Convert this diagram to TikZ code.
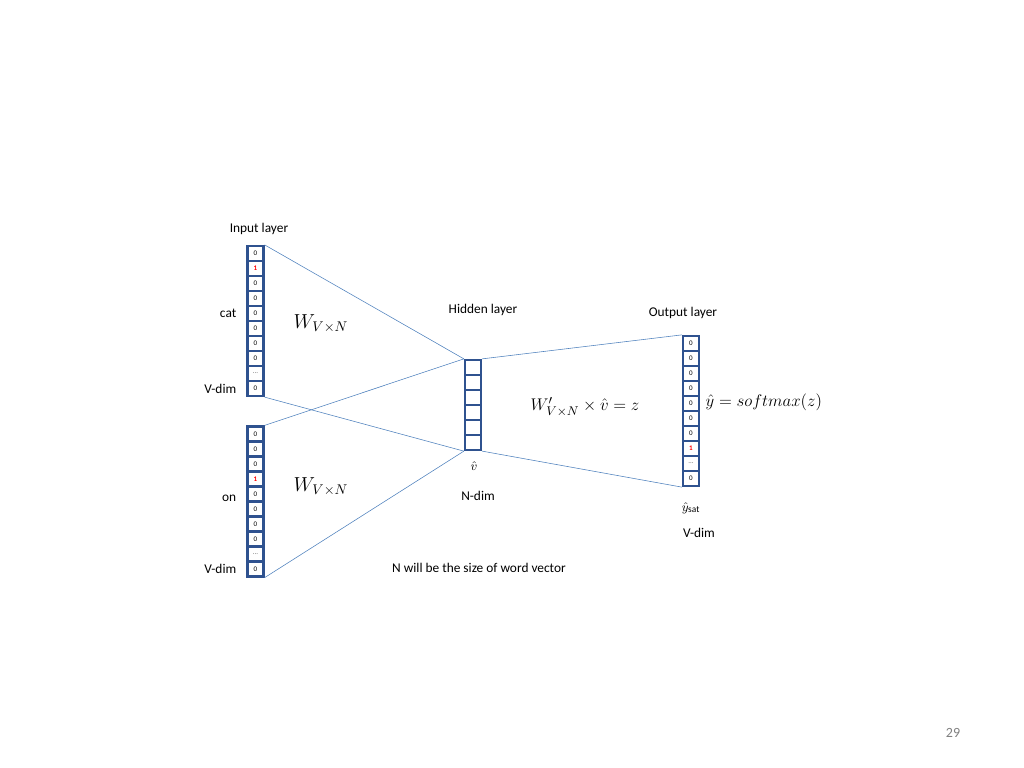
\documentclass[tikz,border=0pt]{standalone}
\usepackage{fontspec}
\setmainfont{Carlito}
\usetikzlibrary{positioning}
\definecolor{cellblue}{RGB}{47,82,143}
\definecolor{linkblue}{RGB}{79,129,189}
\newcommand{\celldots}{\textcolor{black!60}{\raisebox{0.5pt}{...}}}
\newcommand{\hotone}{\textcolor{red}{\textbf{1}}}
\begin{document}
\begin{tikzpicture}[x=0.025cm, y=-0.025cm, font=\fontsize{9.5}{11}\selectfont]
    \tikzstyle{cell} = [ rectangle, draw = cellblue, line width = 1.6pt, fill = white, minimum width = 0.4cm, minimum height = 0.375cm, inner sep = 0pt, font = \fontsize{5}{6}\selectfont]
    \tikzstyle{link} = [ draw = linkblue, thin]
    \tikzstyle{lbl} = [ inner sep = 1pt]
    \useasboundingbox (0,0) rectangle (1024,768);
    %% Input vectors
    \foreach \v [count=\i] in {0,\hotone,0,0,0,0,0,0,\celldots,0} {
        \node [cell] (ca\i) at (255.5, 238.5+15*\i) {\v};
    }
    \foreach \v [count=\i] in {0,0,0,\hotone,0,0,0,0,\celldots,0} {
        \node [cell] (cb\i) at (255.5, 419+15*\i) {\v};
    }
    %% Hidden layer
    \foreach \i in {1,...,6} {
        \node [cell] (h\i) at (473, 352.5+15*\i) {};
    }
    %% Output layer
    \foreach \v [count=\i] in {0,0,0,0,0,0,0,\hotone,\celldots,0} {
        \node [cell] (o\i) at (691, 328.5+15*\i) {\v};
    }
    %% Links
    \draw [link] (ca1.north east) -- (h1.north west);
    \draw [link] (ca10.south east) -- (h6.south west);
    \draw [link] (cb1.north east) -- (h1.north west);
    \draw [link] (cb10.south east) -- (h6.south west);
    \draw [link] (h1.north east) -- (o1.north west);
    \draw [link] (h6.south east) -- (o10.south west);
    %% Labels
    \node [lbl] (in_lbl) at (259, 229) {Input layer};
    \node [lbl, left = 6pt of ca5] (cat) {cat};
    \node [lbl, left = 6pt of ca10] (vdim_a) {V-dim};
    \node [lbl, left = 6pt of cb5, yshift = -3pt] (on) {on};
    \node [lbl, left = 6pt of cb10] (vdim_b) {V-dim};
    \node [lbl] (hid_lbl) at (483, 310) {Hidden layer};
    \node [lbl] (out_lbl) at (683, 313) {Output layer};
    \node [lbl] (w_a) at (321, 324) {\fontsize{14}{16}\selectfont$W_{V\times N}$};
    \node [lbl] (w_b) at (321, 487) {\fontsize{14}{16}\selectfont$W_{V\times N}$};
    \node [lbl] (vhat) at (474, 466) {$\hat{v}$};
    \node [lbl] (ndim) at (478, 496) {N-dim};
    \node [lbl] (eq_z) at (585, 407) {\fontsize{13}{15}\selectfont$W'_{V\times N}\times\hat{v}=z$};
    \node [lbl, anchor = west] (eq_y) at (704, 402) {\fontsize{13}{15}\selectfont$\hat{y}=softmax(z)$};
    \node [lbl] (ysat) at (691, 508) {$\hat{y}_{\mathrm{sat}}$};
    \node [lbl] (vdim_c) at (699, 533) {V-dim};
    \node [lbl] (note) at (479, 568) {N will be the size of word vector};
    \node [lbl, text = gray, font = \fontsize{10}{12}\selectfont] (page) at (953, 733) {29};
\end{tikzpicture}
\end{document}
